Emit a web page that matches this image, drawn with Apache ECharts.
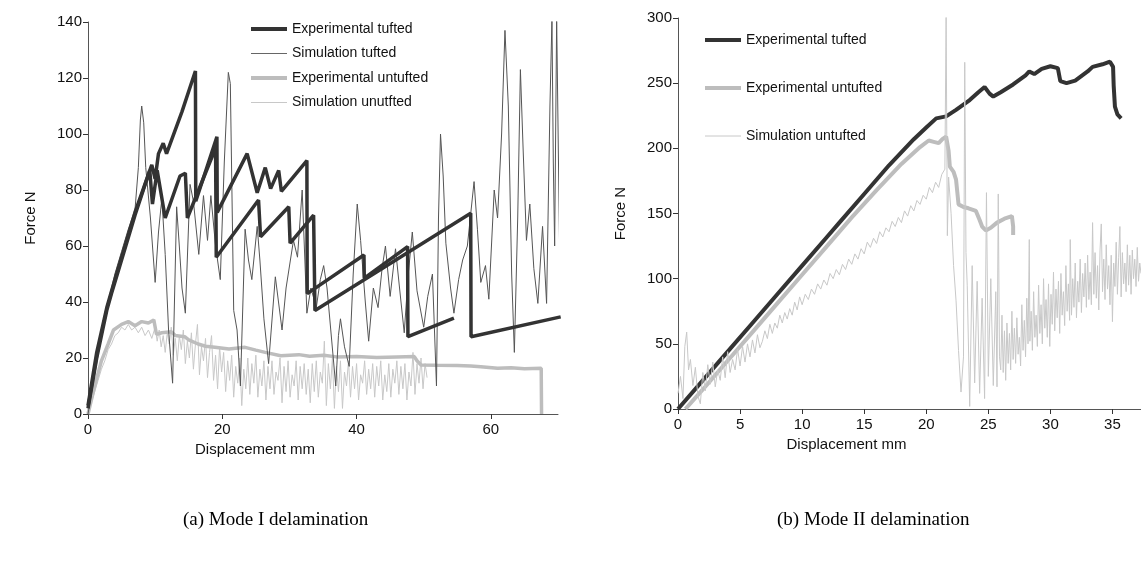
<!DOCTYPE html>
<html>
<head>
<meta charset="utf-8">
<script src="https://cdn.jsdelivr.net/npm/echarts@6/dist/echarts.min.js"></script>
<style>html,body{margin:0;padding:0;background:#fff}#c{width:1141px;height:563px}</style>
</head>
<body>
<div id="c"></div>
<script>
// ---------- Panel (a): Mode I ----------
const aXTicks = [0, 20, 40, 60];
const aExpTuftedA = [[0,3],[1.3,22],[2.8,38],[3.4,43],[4.5,52],[7,72],[9.5,89],[10,84],[10.5,93],[11.2,96.7],[11.7,93],[14,108],[16,122.5],[16.05,76],[19.2,99],[19.25,72],[23.7,93],[25.2,79],[26.4,88],[27.2,80.5],[28.4,87],[28.8,79.5],[32.6,90.5],[32.65,43],[41.1,56.8],[41.15,48.5],[47.6,59.8],[47.65,27.6],[54.5,34.2]];
const aExpTuftedB = [[0,2],[1.3,20],[2.8,37],[3.5,43],[4.5,51],[7,71],[9.2,87],[9.6,75],[10.3,87],[11.5,70],[13.7,85],[14.5,86],[14.8,70],[19,95],[19.1,56],[25.4,76.4],[25.7,63.3],[29.9,74],[30.1,61],[33.6,71],[33.8,37],[57,71.7],[57.05,27.6],[70.4,34.7]];
const aSimTufted = [[0,0],[1,14],[2,28],[3,40],[4,50],[5,58],[6,66],[7,73],[7.5,88],[7.8,105],[8,110],[8.3,104],[8.6,88],[9.3,70],[10,47],[10.5,65],[11,77],[11.5,57],[12,30],[12.6,11],[13.2,74],[13.6,60],[14,45],[14.5,36],[15.2,82],[15.7,76],[16.5,57],[17.2,78],[17.8,62],[18.3,78],[19,60],[19.7,48],[20.3,90],[20.9,122],[21.2,118],[21.7,37],[22.2,30],[22.7,10],[23.4,66],[23.9,55],[24.4,48],[25.2,67],[25.6,55],[26.2,34],[26.9,18],[27.9,49],[28.9,30],[29.5,45],[30.6,62],[31.2,56],[31.9,80],[32.6,36],[33.2,45],[34,38],[34.6,48],[35.1,53],[35.6,45],[36.9,10],[37.3,28],[37.6,34],[38.2,24],[38.9,17],[39.5,50],[40.1,75],[40.6,62],[41.3,40],[41.8,26],[42.5,45],[43.2,38],[43.8,52],[44.3,60],[45,42],[45.8,59],[46.4,45],[47.1,29],[47.7,50],[48.3,65],[49,44],[50,31],[50.6,42],[51.3,50],[51.9,10],[52.2,70],[52.5,100],[52.9,85],[53.3,61],[54,45],[54.5,36],[55.2,48],[55.8,55],[56.5,60],[57.5,83],[58,66],[58.5,47],[59.2,53],[59.7,41],[60.5,80],[61,70],[61.6,100],[62.1,137],[62.6,110],[63.1,50],[63.5,22],[64,70],[64.4,123],[64.8,95],[65.3,62],[65.8,75],[66.4,52],[67,39.5],[67.7,67],[68.3,39.5],[68.8,110],[69.1,141],[69.3,90],[69.5,60],[69.8,141],[70.1,85],[70.4,30]];
const aExpUntufted = [[0,0],[1,10],[2,19],[3,25],[3.8,30],[5,32],[6,33],[7,31.5],[8,33],[9,32.5],[9.8,33.6],[10.2,28.5],[11,29],[12.4,29.4],[13,28],[14.4,27.6],[15,26.5],[16.4,25],[17.5,24.2],[18.9,23.8],[21,23.2],[23.4,23.8],[25,22.8],[26.4,22],[28.7,20.8],[31.4,21.2],[33,20.6],[35.1,21],[37,20.4],[40,20.5],[43,20.2],[46,20.4],[48.6,20.5],[49,19],[49.6,17.5],[52,17.4],[55,17.3],[57,17.1],[58.5,16.9],[61,16.3],[63,16.5],[65,16.2],[67.5,16.3],[67.55,0]];
const aSimUntufted = [[0,0],[0.5,4],[1,8],[1.5,12],[2,16],[2.5,19],[3,23],[3.5,25],[4,28],[4.5,29],[5,31],[5.5,30],[6,32],[6.5,30],[7,31],[7.5,29],[8,31],[8.5,28],[9,30],[9.5,27],[10,31],[10.3,26],[10.6,30],[10.9,24],[11.2,28],[11.5,22],[11.8,29],[12.1,25],[12.4,31],[12.7,21],[13,27],[13.3,19],[13.6,28],[13.9,23],[14.2,30],[14.5,18],[14.8,26],[15.1,20],[15.4,29],[15.7,16],[16,25],[16.3,32],[16.6,14],[16.9,24],[17.2,19],[17.5,27],[17.8,13],[18.1,22],[18.4,28],[18.7,12],[19,21],[19.3,9],[19.6,24],[19.9,15],[20.2,22],[20.5,8],[20.8,19],[21.1,12],[21.4,21],[21.7,6],[22,17],[22.3,11],[22.6,20],[22.9,3],[23.2,16],[23.5,9],[23.8,20],[24.1,7],[24.4,18],[24.7,11],[25,21],[25.3,6],[25.6,16],[25.9,10],[26.2,19],[26.5,5],[26.8,17],[27.1,9],[27.4,19],[27.7,7],[28,15],[28.3,12],[28.6,20],[28.9,4],[29.2,17],[29.5,8],[29.8,19],[30.1,6],[30.4,14],[30.7,10],[31,19],[31.3,5],[31.6,17],[31.9,9],[32.2,18],[32.5,7],[32.8,16],[33.1,4],[33.4,18],[33.7,8],[34,19],[34.3,6],[34.6,15],[34.9,11],[35.2,26],[35.5,3],[35.8,18],[36.1,9],[36.4,20],[36.7,2],[37,17],[37.3,8],[37.6,19],[37.9,2],[38.2,15],[38.5,10],[38.8,19],[39.1,6],[39.4,17],[39.7,9],[40,18],[40.3,5],[40.6,14],[40.9,11],[41.2,19],[41.5,7],[41.8,16],[42.1,9],[42.4,18],[42.7,6],[43,17],[43.3,10],[43.6,19],[43.9,5],[44.2,14],[44.5,8],[44.8,18],[45.1,6],[45.4,16],[45.7,11],[46,19],[46.3,7],[46.6,17],[46.9,9],[47.2,18],[47.5,5],[47.8,15],[48.1,10],[48.4,22],[48.7,7],[49,18],[49.3,11],[49.6,20],[49.9,9],[50.2,18],[50.5,13]];

// ---------- Panel (b): Mode II ----------
const bXTicks = [0, 5, 10, 15, 20, 25, 30, 35];
const bExpTufted = [[0,0],[2,22],[4,44],[6,66],[8,88],[10,110],[12,132],[13,143],[15,165],[17,187],[19,207],[20,216],[20.8,223],[21.6,224.5],[22.4,229.5],[23.5,237],[24.2,243],[24.7,247],[25.1,242],[25.4,239.7],[26,243],[27,249],[28,256],[28.3,259],[28.7,257],[29.3,261],[30,263],[30.6,261.5],[30.8,251.5],[31.3,250],[32,252],[33,259],[33.4,262.5],[34.2,264.5],[34.8,266.5],[35.05,262.5],[35.1,248],[35.2,232],[35.4,226],[35.7,223]];
const bExpUntufted = [[0.6,0],[2,15],[4,37],[6,59],[8,81],[10,103],[12,125],[14,147],[16,168],[18,188],[19.5,201],[20.2,206],[20.6,205],[21,204],[21.3,207],[21.6,209],[21.8,198],[21.9,186],[22.2,182],[22.4,176],[22.6,157],[23,155],[23.4,154],[24,152],[24.3,145],[24.5,140],[24.8,137],[25.2,139],[25.7,143],[26.3,146],[26.9,148],[27,140],[27,133.5]];
const bSimUntufted = [[0,12],[0.2,25],[0.4,8],[0.55,48],[0.7,59],[0.85,30],[1,38],[1.2,18],[1.4,32],[1.6,10],[1.8,4],[2,28],[2.2,14],[2.4,34],[2.6,19],[2.8,36],[3,17],[3.2,30],[3.4,22],[3.6,40],[3.8,24],[4,44],[4.2,28],[4.4,38],[4.6,30],[4.8,46],[5,33],[5.2,48],[5.4,36],[5.6,50],[5.8,40],[6,53],[6.2,43],[6.4,57],[6.6,47],[6.8,52],[7,60],[7.2,54],[7.4,65],[7.6,58],[7.8,66],[8,62],[8.2,72],[8.4,66],[8.6,74],[8.8,69],[9,77],[9.2,72],[9.4,82],[9.6,76],[9.8,86],[10,80],[10.25,88],[10.5,84],[10.75,92],[11,88],[11.25,96],[11.5,92],[11.75,99],[12,95],[12.25,104],[12.5,100],[12.75,107],[13,103],[13.25,111],[13.5,107],[13.75,115],[14,111],[14.25,119],[14.5,115],[14.75,123],[15,119],[15.25,128],[15.5,124],[15.75,131],[16,127],[16.25,136],[16.5,132],[16.75,139],[17,136],[17.25,144],[17.5,140],[17.75,147],[18,143],[18.25,152],[18.5,148],[18.75,156],[19,152],[19.25,160],[19.5,157],[19.75,164],[20,161],[20.25,170],[20.5,166],[20.75,174],[21,170],[21.25,180],[21.5,184],[21.6,301],[21.7,133],[21.8,178],[22,150],[22.2,110],[22.4,83],[22.6,45],[22.8,13],[23,40],[23.1,266],[23.2,120],[23.3,95],[23.5,2],[23.7,110],[23.9,20],[24.1,98],[24.3,12],[24.5,85],[24.7,8],[24.85,166],[25,25],[25.2,100],[25.4,18],[25.6,90],[25.7,17],[25.8,165],[25.9,40],[26.0,30],[26.1,72],[26.2,28],[26.3,60],[26.4,22],[26.5,66],[26.6,35],[26.7,58],[26.8,30],[26.9,75],[27.0,38],[27.1,62],[27.2,35],[27.3,70],[27.4,42],[27.5,55],[27.6,33],[27.7,80],[27.8,45],[27.9,68],[28.0,40],[28.1,85],[28.2,50],[28.3,130],[28.35,52],[28.45,75],[28.55,45],[28.65,90],[28.75,55],[28.85,72],[28.95,48],[29.05,95],[29.15,58],[29.25,80],[29.35,50],[29.45,100],[29.55,62],[29.65,84],[29.75,55],[29.85,96],[29.95,48],[30.05,88],[30.15,65],[30.25,105],[30.35,60],[30.45,92],[30.55,70],[30.65,98],[30.75,58],[30.85,104],[30.95,72],[31.05,90],[31.15,64],[31.25,110],[31.35,75],[31.45,96],[31.55,68],[31.6,130],[31.7,72],[31.8,100],[31.9,78],[32.0,112],[32.1,70],[32.2,98],[32.3,82],[32.4,115],[32.5,74],[32.6,104],[32.7,86],[32.8,112],[32.9,78],[33.0,118],[33.1,84],[33.2,105],[33.3,80],[33.4,143],[33.5,88],[33.6,120],[33.7,85],[33.8,110],[33.9,76],[34.0,122],[34.1,142],[34.2,90],[34.3,115],[34.4,84],[34.5,126],[34.6,92],[34.7,110],[34.8,80],[34.9,118],[35.0,67],[35.1,112],[35.2,94],[35.3,128],[35.4,88],[35.5,116],[35.6,140],[35.7,86],[35.8,120],[35.9,96],[36.0,112],[36.1,90],[36.2,126],[36.3,95],[36.4,118],[36.5,88],[36.6,122],[36.7,100],[36.8,115],[36.9,94],[37.0,124],[37.1,98],[37.2,112],[37.3,104]];

const FONT = 'Liberation Sans, Arial, sans-serif';
const SERIF = 'Liberation Serif, Times New Roman, serif';
const C_DARK = '#333333', C_SIM_T = '#555555', C_LIGHT = '#bdbdbd', C_SIM_U = '#c8c8c8';

function xAx(gi, max, ticks, padRight) {
  return {
    gridIndex: gi, type: 'value', min: 0, max: max,
    axisLine: {show: true, onZero: false, lineStyle: {color: '#555', width: 1}},
    axisTick: {show: true, length: 5, customValues: ticks, lineStyle: {color: '#333'}},
    axisLabel: {customValues: ticks, color: '#111', fontSize: 15, fontFamily: FONT, margin: 8},
    splitLine: {show: false},
    name: 'Displacement mm', nameLocation: 'middle', nameGap: 26,
    nameTextStyle: {color: '#111', fontSize: 15, fontFamily: FONT, padding: [0, padRight, 0, 0]}
  };
}
function yAx(gi, max, interval, gap) {
  return {
    gridIndex: gi, type: 'value', min: 0, max: max, interval: interval,
    axisLine: {show: true, onZero: false, lineStyle: {color: '#555', width: 1}},
    axisTick: {show: true, length: 5, lineStyle: {color: '#333'}},
    axisLabel: {color: '#111', fontSize: 15, fontFamily: FONT, margin: 6},
    splitLine: {show: false},
    name: 'Force N', nameLocation: 'middle', nameRotate: 90, nameGap: gap,
    nameTextStyle: {color: '#111', fontSize: 15, fontFamily: FONT}
  };
}
function line(name, gi, data, color, width) {
  return {
    name: name, type: 'line', xAxisIndex: gi, yAxisIndex: gi, data: data,
    symbol: 'none', showSymbol: false, smooth: false, clip: true,
    lineStyle: {color: color, width: width}, itemStyle: {color: color},
    emphasis: {disabled: true}
  };
}
function legItem(name, color, width) {
  return {name: name, itemStyle: {opacity: 0}, lineStyle: {color: color, width: width}};
}
const legendBase = {
  orient: 'vertical', itemWidth: 36, itemHeight: 14, padding: 0,
  itemStyle: {opacity: 0},
  textStyle: {color: '#111', fontSize: 14, fontFamily: FONT},
  selectedMode: false
};

const chart = echarts.init(document.getElementById('c'), null, {renderer: 'canvas'});
chart.setOption({
  animation: false,
  backgroundColor: '#fff',
  grid: [
    {left: 88, top: 22, width: 470, height: 392},
    {left: 678, top: 18, width: 463, height: 391}
  ],
  xAxis: [xAx(0, 70, aXTicks, 136), xAx(1, 37.3, bXTicks, 126)],
  yAxis: [yAx(0, 140, 20, 50), yAx(1, 300, 50, 50)],
  legend: [
    Object.assign({}, legendBase, {
      left: 249, top: 22, itemGap: 10.5,
      data: [
        legItem('Experimental tufted', C_DARK, 4),
        legItem('Simulation tufted', '#666666', 1),
        legItem('Experimental untufted', C_LIGHT, 4),
        legItem('Simulation unutfted', C_SIM_U, 1)
      ]
    }),
    Object.assign({}, legendBase, {
      left: 703, top: 33, itemGap: 34,
      data: [
        legItem('Experimental tufted', C_DARK, 4),
        legItem('Experimental untufted', C_LIGHT, 4),
        legItem('Simulation untufted', C_SIM_U, 1)
      ]
    })
  ],
  graphic: [
    {type: 'text', left: 183, top: 511, style: {text: '(a) Mode I delamination', font: '19px ' + SERIF, fill: '#000'}},
    {type: 'text', left: 777, top: 511, style: {text: '(b) Mode II delamination', font: '19px ' + SERIF, fill: '#000'}}
  ],
  series: [
    line('Simulation unutfted', 0, aSimUntufted, C_SIM_U, 1),
    line('Experimental untufted', 0, aExpUntufted, C_LIGHT, 3.5),
    line('Simulation tufted', 0, aSimTufted, C_SIM_T, 1),
    line('Experimental tufted', 0, aExpTuftedA, C_DARK, 3.5),
    line('Experimental tufted', 0, aExpTuftedB, C_DARK, 3.5),
    line('Experimental tufted', 1, bExpTufted, C_DARK, 4),
    line('Experimental untufted', 1, bExpUntufted, C_LIGHT, 4),
    line('Simulation untufted', 1, bSimUntufted, C_SIM_U, 1)
  ]
});
</script>
</body>
</html>
